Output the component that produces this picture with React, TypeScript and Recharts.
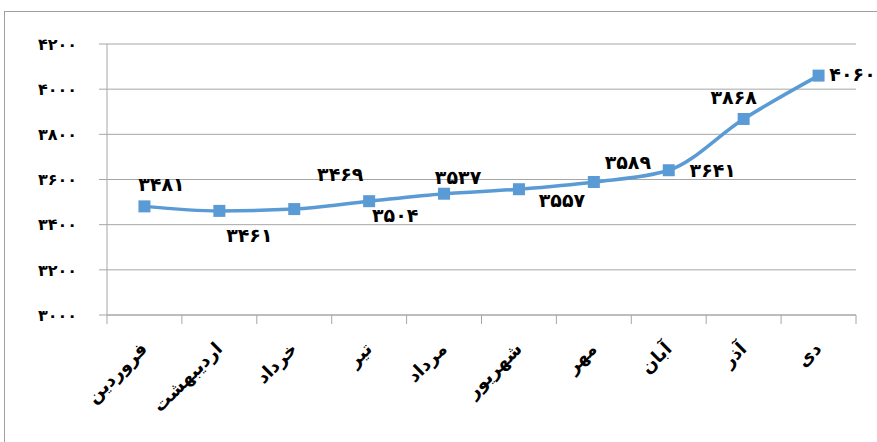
import { LineChart, Line, XAxis, YAxis, CartesianGrid, LabelList } from 'recharts'

const months = ['فروردین', 'اردیبهشت', 'خرداد', 'تیر', 'مرداد', 'شهریور', 'مهر', 'آبان', 'آذر', 'دی']
const values = [3481, 3461, 3469, 3504, 3537, 3557, 3589, 3641, 3868, 4060]
const yTicks = [3000, 3200, 3400, 3600, 3800, 4000, 4200]

// label nudges (dx, dy) so the labels sit where the original ones do
const labelOffsets = [
  [17, -22], [30, 24], [46, -35], [26, 14], [14, -17],
  [43, 11], [34, -20], [44, 0], [-10, -22], [34, -2],
]

const data = months.map((m, i) => ({ month: m, value: values[i] }))

const BLUE = '#5B9BD5'
const GRAY = '#A6A6A6'
const FONT = '"DejaVu Sans", sans-serif'
const BAND = (856 - 107) / months.length

const toFa = (n: number | string) =>
  String(n).replace(/[0-9]/g, (d) => '۰۱۲۳۴۵۶۷۸۹'[Number(d)])

function MonthTick(props: any) {
  const { x, y, payload, index } = props
  const last = index === months.length - 1
  return (
    <g>
      <line x1={x - BAND / 2} y1={y - 8} x2={x - BAND / 2} y2={y + 1} stroke={GRAY} />
      {last && <line x1={x + BAND / 2} y1={y - 8} x2={x + BAND / 2} y2={y + 1} stroke={GRAY} />}
      <text
        x={x + 4}
        y={y + 27}
        transform={`rotate(-45 ${x + 4} ${y + 27})`}
        textAnchor="end"
        fontFamily={FONT}
        fontWeight="bold"
        fontSize={18}
        fill="#000"
      >
        {payload.value}
      </text>
    </g>
  )
}

function SquareDot(props: any) {
  const { cx, cy } = props
  if (cx == null || cy == null) return null
  return <rect x={cx - 6} y={cy - 6} width={12} height={12} fill={BLUE} />
}

function ValueLabel(props: any) {
  const { x, y, value, index } = props
  const [dx, dy] = labelOffsets[index] || [0, -20]
  return (
    <text
      x={x + dx}
      y={y + dy}
      textAnchor="middle"
      dominantBaseline="central"
      fontFamily={FONT}
      fontWeight="bold"
      fontSize={19}
      fill="#000"
    >
      {toFa(value)}
    </text>
  )
}

export default function App() {
  return (
    <div style={{ position: 'absolute', left: 0, top: 0, width: 877, height: 442, overflow: 'hidden', background: '#fff' }}>
      <div style={{ position: 'absolute', left: 4, top: 11, width: 900, height: 460, border: '1px solid #A0A0A0' }} />
      <div style={{ position: 'absolute', left: 0, top: 0 }}>
        <LineChart width={877} height={442} data={data} margin={{ top: 44, right: 21, bottom: 0, left: 0 }}>
          <CartesianGrid vertical={false} stroke={GRAY} strokeWidth={1} />
          <XAxis
            dataKey="month"
            scale="band"
            interval={0}
            tickLine={false}
            axisLine={{ stroke: GRAY }}
            tick={<MonthTick />}
            height={127}
          />
          <YAxis
            domain={[3000, 4200]}
            ticks={yTicks}
            interval={0}
            width={107}
            tickSize={8}
            tickMargin={22}
            axisLine={{ stroke: GRAY }}
            tickLine={{ stroke: GRAY }}
            tickFormatter={toFa}
            tick={{ fontFamily: FONT, fontWeight: 'bold', fontSize: 16, fill: '#000' }}
          />
          <Line
            type="monotone"
            dataKey="value"
            stroke={BLUE}
            strokeWidth={3.5}
            dot={<SquareDot />}
            activeDot={false}
            isAnimationActive={false}
          >
            <LabelList dataKey="value" content={<ValueLabel />} />
          </Line>
        </LineChart>
      </div>
    </div>
  )
}
